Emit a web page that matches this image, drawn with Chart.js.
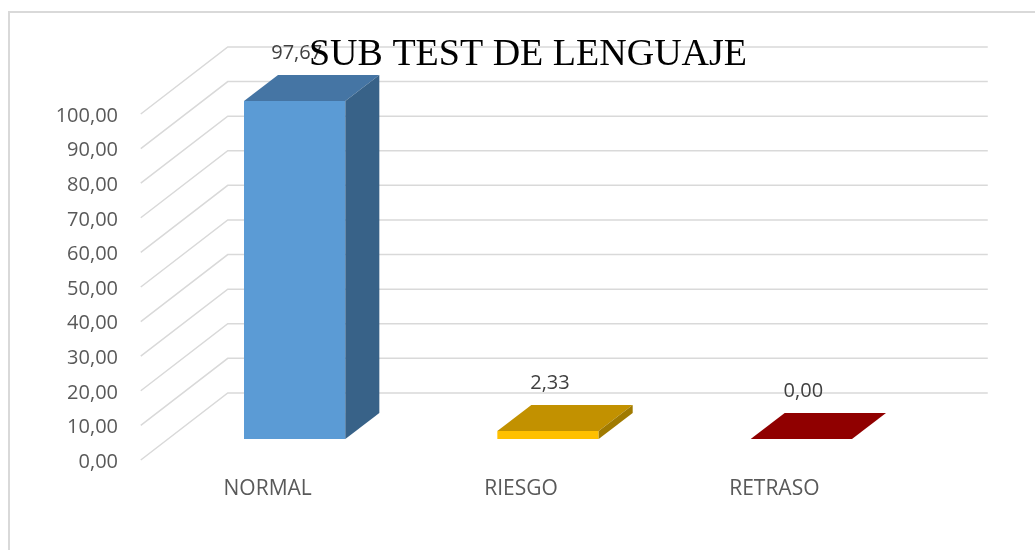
<!DOCTYPE html>
<html lang="es">
<head>
    <meta charset="UTF-8">
    <title>SUB TEST DE LENGUAJE</title>
    <script src="https://cdn.jsdelivr.net/npm/chart.js"></script>
    <style>
        body {
            margin: 0;
            background: white;
            overflow: hidden;
        }
        .frame {
            position: absolute;
            left: 8px;
            top: 11px;
            width: 1100px;
            height: 600px;
            border-left: 2px solid #d9d9d9;
            border-top: 2px solid #d9d9d9;
        }
        .chart-container {
            position: absolute;
            left: 0;
            top: 0;
            width: 1035px;
            height: 550px;
        }
    </style>
</head>
<body>
    <div class="frame"></div>
    <div class="chart-container">
        <canvas id="lenguajeChart"></canvas>
    </div>

    <script>
        const titleText = 'SUB TEST DE LENGUAJE';
        const categories = ['NORMAL', 'RIESGO', 'RETRASO'];
        const values = [97.67, 2.33, 0.00];
        const frontColors = ['#5b9bd5', '#ffc000', '#c00000'];
        const topColors = ['#4575a4', '#c29100', '#900000'];
        const sideColors = ['#386288', '#a07a00', '#700000'];

        const fmt = v => v.toFixed(2).replace('.', ',');

        // fake 3d: floor depth and bar depth in pixels
        const depth = { x: 87, y: -67, plane: 0.313 };
        const barDepth = { x: 34, y: -26 };

        const threeD = {
            id: 'threeD',
            beforeDatasetsDraw(chart) {
                const ctx = chart.ctx;
                const y = chart.scales.y;
                const area = chart.chartArea;
                const fx = -depth.x * depth.plane, fy = -depth.y * depth.plane;
                const bx = depth.x * (1 - depth.plane), by = depth.y * (1 - depth.plane);
                ctx.save();
                ctx.strokeStyle = '#d9d9d9';
                ctx.lineWidth = 1.5;
                y.ticks.forEach(t => {
                    const py = y.getPixelForValue(t.value);
                    ctx.beginPath();
                    ctx.moveTo(area.left + fx, py + fy);
                    ctx.lineTo(area.left + bx, py + by);
                    ctx.lineTo(area.right + bx, py + by);
                    ctx.stroke();
                });
                ctx.restore();
            },
            afterDatasetsDraw(chart) {
                const ctx = chart.ctx;
                const meta = chart.getDatasetMeta(0);
                ctx.save();
                meta.data.forEach((bar, i) => {
                    const p = bar.getProps(['x', 'y', 'base', 'width'], true);
                    const l = p.x - p.width / 2, r = p.x + p.width / 2;
                    // top face
                    ctx.fillStyle = topColors[i];
                    ctx.beginPath();
                    ctx.moveTo(l, p.y);
                    ctx.lineTo(r, p.y);
                    ctx.lineTo(r + barDepth.x, p.y + barDepth.y);
                    ctx.lineTo(l + barDepth.x, p.y + barDepth.y);
                    ctx.closePath();
                    ctx.fill();
                    // side face
                    if (p.base - p.y > 0.5) {
                        ctx.fillStyle = sideColors[i];
                        ctx.beginPath();
                        ctx.moveTo(r, p.y);
                        ctx.lineTo(r + barDepth.x, p.y + barDepth.y);
                        ctx.lineTo(r + barDepth.x, p.base + barDepth.y);
                        ctx.lineTo(r, p.base);
                        ctx.closePath();
                        ctx.fill();
                    }
                    // value label
                    ctx.fillStyle = '#404040';
                    ctx.font = '20px "Open Sans"';
                    ctx.textAlign = 'center';
                    ctx.textBaseline = 'middle';
                    ctx.fillText(fmt(values[i]), p.x + 2, p.y + barDepth.y - 22);
                });
                ctx.restore();
            },
            afterDraw(chart) {
                const ctx = chart.ctx;
                ctx.save();
                ctx.fillStyle = '#000000';
                ctx.font = '38px "Liberation Serif"';
                ctx.textAlign = 'center';
                ctx.textBaseline = 'alphabetic';
                ctx.fillText(titleText, 528, 65);
                ctx.restore();
            }
        };

        const ctx = document.getElementById('lenguajeChart').getContext('2d');
        const chart = new Chart(ctx, {
            type: 'bar',
            data: {
                labels: categories,
                datasets: [{
                    data: values,
                    backgroundColor: frontColors,
                    borderWidth: 0,
                    barPercentage: 0.4,
                    categoryPercentage: 1
                }]
            },
            options: {
                responsive: true,
                maintainAspectRatio: false,
                animation: false,
                layout: {
                    padding: { left: 28, right: 107, top: 93, bottom: 51 }
                },
                scales: {
                    x: {
                        grid: { display: false, drawTicks: false },
                        border: { display: false },
                        ticks: {
                            color: '#595959',
                            font: { family: 'Open Sans', size: 21 },
                            padding: 37,
                            labelOffset: -27,
                            maxRotation: 0
                        },
                        afterFit(scale) { scale.height = 60; }
                    },
                    y: {
                        min: 0,
                        max: 100,
                        grid: { display: false, drawTicks: false },
                        border: { display: false },
                        ticks: {
                            stepSize: 10,
                            color: '#595959',
                            font: { family: 'Open Sans', size: 20 },
                            padding: 50,
                            labelOffset: 23,
                            callback: v => fmt(v)
                        },
                        afterFit(scale) { scale.width = 140; }
                    }
                },
                plugins: {
                    legend: { display: false },
                    tooltip: { enabled: false }
                }
            },
            plugins: [threeD]
        });
    </script>
</body>
</html>
